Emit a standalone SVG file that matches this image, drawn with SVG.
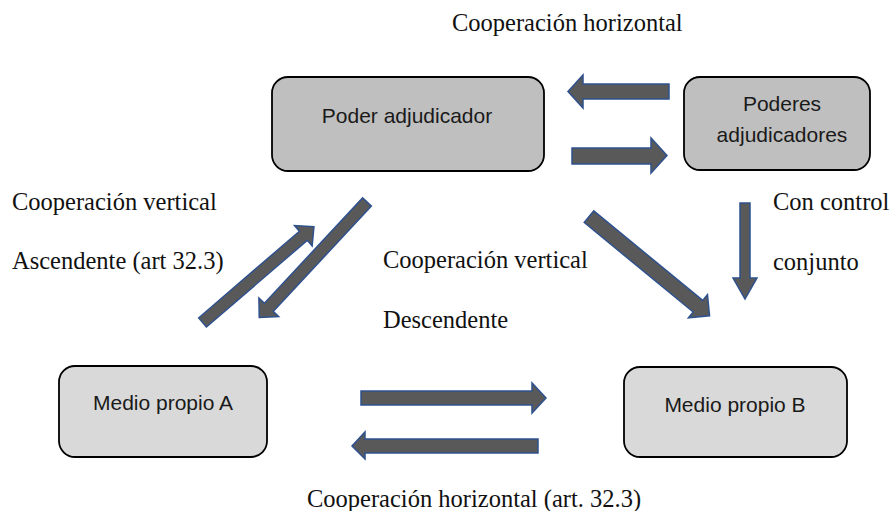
<svg xmlns="http://www.w3.org/2000/svg" width="893" height="511" viewBox="0 0 893 511">
<style>
.box{stroke:#000;stroke-width:1.8}
.dark{fill:#bfbfbf}
.light{fill:#d9d9d9}
.nt{font-family:"Liberation Sans",Arial,sans-serif;font-size:21px;fill:#1a1a1a;text-anchor:middle}
.lbl{font-family:"Liberation Serif","Times New Roman",serif;font-size:24.5px;fill:#111}
.arr{fill:#595959;stroke:#2f528f;stroke-width:1.5;stroke-linejoin:miter}
</style>
<rect width="893" height="511" fill="#fff"/>
<g id="poder-adjudicador">
<rect class="box dark" x="272" y="77" width="272" height="94" rx="16"/>
<text class="nt" x="407" y="123">Poder adjudicador</text>
</g>
<g id="poderes-adjudicadores">
<rect class="box dark" x="684" y="77" width="186" height="93" rx="16"/>
<text class="nt" x="782" y="111">Poderes</text>
<text class="nt" x="782" y="142">adjudicadores</text>
</g>
<g id="medio-propio-a">
<rect class="box light" x="59" y="366" width="208" height="91" rx="16"/>
<text class="nt" x="163" y="410">Medio propio A</text>
</g>
<g id="medio-propio-b">
<rect class="box light" x="624" y="367" width="223" height="90" rx="16"/>
<text class="nt" x="735" y="412">Medio propio B</text>
</g>
<g id="connectors">
<polygon class="arr" points="669,84 583,84 583,75 568,91.5 583,108 583,99 669,99"/>
<polygon class="arr" points="572,148 651,148 651,138 667,155.5 651,173 651,164 572,164"/>
<polygon class="arr" points="740,203 750,203 750,278 757,278 745,299 733,278 740,278"/>
<polygon class="arr" points="361,391 532,391 532,383 546,398 532,413 532,405 361,405"/>
<polygon class="arr" points="538,439 365,439 365,432 352,446 365,459 365,453 538,453"/>
<polygon class="arr" transform="translate(202.5,322.5) rotate(-40.7)" points="0,-6 133,-6 133,-13.5 147,0 133,13.5 133,6 0,6"/>
<polygon class="arr" transform="translate(367,202) rotate(133)" points="0,-6 144,-6 144,-13.5 158,0 144,13.5 144,6 0,6"/>
<polygon class="arr" transform="translate(589,216.7) rotate(39.4)" points="0,-7.5 141,-7.5 141,-15 156,0 141,15 141,7.5 0,7.5"/>
</g>
<g id="labels">
<text class="lbl" x="452" y="31">Cooperación horizontal</text>
<text class="lbl" x="12" y="210">Cooperación vertical</text>
<text class="lbl" x="12" y="269">Ascendente (art 32.3)</text>
<text class="lbl" x="383" y="268">Cooperación vertical</text>
<text class="lbl" x="383" y="328">Descendente</text>
<text class="lbl" x="773" y="210">Con control</text>
<text class="lbl" x="773" y="270">conjunto</text>
<text class="lbl" x="307" y="507">Cooperación horizontal (art. 32.3)</text>
</g>
</svg>
